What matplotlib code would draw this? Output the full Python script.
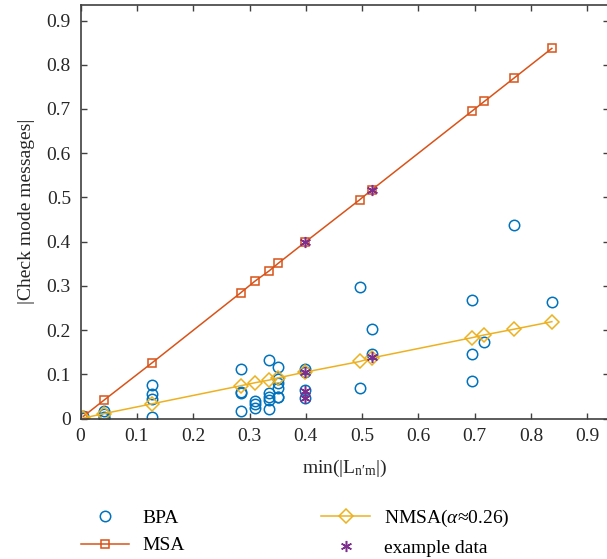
import matplotlib
matplotlib.use("Agg")
import matplotlib.pyplot as plt
from matplotlib.ticker import FixedLocator

plt.rcParams['font.family'] = ['Liberation Serif', 'DejaVu Serif']
plt.rcParams['mathtext.fontset'] = 'custom'
plt.rcParams['mathtext.rm'] = 'Liberation Serif'
plt.rcParams['mathtext.it'] = 'Liberation Serif:italic'

# min(|L_n/m|) for each check node group
msa_x = [0.005, 0.041, 0.126, 0.284, 0.310, 0.335, 0.351, 0.399, 0.496, 0.517, 0.696, 0.717, 0.770, 0.837]
msa_y = [0.005, 0.041, 0.125, 0.284, 0.311, 0.334, 0.351, 0.399, 0.495, 0.517, 0.696, 0.717, 0.770, 0.837]
nmsa_y = [0.001, 0.011, 0.033, 0.074, 0.081, 0.087, 0.092, 0.105, 0.129, 0.137, 0.183, 0.189, 0.202, 0.219]

# BPA check messages (several per group)
bpa_x = [0.005, 0.005,
         0.041, 0.041, 0.041, 0.041,
         0.126, 0.126, 0.126, 0.126,
         0.284, 0.284, 0.284, 0.284,
         0.310, 0.310, 0.310,
         0.335, 0.335, 0.335, 0.335, 0.335,
         0.351, 0.351, 0.351, 0.351, 0.351, 0.351,
         0.399, 0.399, 0.399, 0.399,
         0.496, 0.496,
         0.517, 0.517,
         0.696, 0.696, 0.696,
         0.717, 0.770, 0.837]
bpa_y = [0.002, 0.005,
         0.018, 0.010, 0.004, 0.002,
         0.075, 0.055, 0.045, 0.004,
         0.112, 0.061, 0.057, 0.017,
         0.040, 0.033, 0.024,
         0.132, 0.057, 0.049, 0.042, 0.021,
         0.116, 0.089, 0.080, 0.068, 0.048, 0.048,
         0.111, 0.106, 0.064, 0.046,
         0.298, 0.068,
         0.202, 0.145,
         0.267, 0.146, 0.085,
         0.172, 0.438, 0.264]

# highlighted example messages
ex_x = [0.399, 0.399, 0.399, 0.399, 0.517, 0.517]
ex_y = [0.399, 0.105, 0.062, 0.047, 0.517, 0.139]

blue = '#0072BD'
orange = '#D95319'
yellow = '#EDB120'
purple = '#7E2F8E'
axcol = '#404040'
txtcol = '#262626'

fig = plt.figure(figsize=(6.07, 5.59), dpi=100)
ax = fig.add_axes([0.1328, 0.2513, 0.8705, 0.7397])

ax.plot(bpa_x, bpa_y, 'o', mfc='none', mec=blue, ms=7.5, mew=1.1, label='BPA')
ax.plot(msa_x, msa_y, '-s', color=orange, mfc='none', ms=6, mew=1.1, lw=1.1, label='MSA')
ax.plot(msa_x, nmsa_y, '-D', color=yellow, mfc='none', ms=7, mew=1.1, lw=1.1,
        label=r'NMSA($\mathit{\alpha}$≈0.26)')
ax.plot(ex_x, ex_y, ls='none', marker=(6, 2, 0), color=purple, ms=8, mew=1.1,
        label='example data')

ax.set_xlim(0, 0.9385)
ax.set_ylim(0, 0.935)
ticks = [0, 0.1, 0.2, 0.3, 0.4, 0.5, 0.6, 0.7, 0.8, 0.9]
labels = ['0', '0.1', '0.2', '0.3', '0.4', '0.5', '0.6', '0.7', '0.8', '0.9']
ax.xaxis.set_major_locator(FixedLocator(ticks))
ax.yaxis.set_major_locator(FixedLocator(ticks))
ax.set_xticklabels(labels)
ax.set_yticklabels(labels)
ax.tick_params(direction='in', top=True, right=True, length=4, width=1.0,
               color=axcol, labelsize=14, labelcolor=txtcol, pad=7)
for s in ax.spines.values():
    s.set_color(axcol)
    s.set_linewidth(1.2)

ax.set_xlabel(r'min(|L$_{\mathrm{n\prime m}}$|)', fontsize=14, color=txtcol, labelpad=9)
ax.set_ylabel('|Check mode messages|', fontsize=14, color=txtcol, labelpad=8)

fig.legend(loc='upper left', bbox_to_anchor=(0.12, 0.105), ncol=2, frameon=False,
           fontsize=14, handlelength=2.5, handletextpad=0.7, columnspacing=7.0,
           labelspacing=0.5, borderaxespad=0)

fig.savefig('out.png', dpi=100)
